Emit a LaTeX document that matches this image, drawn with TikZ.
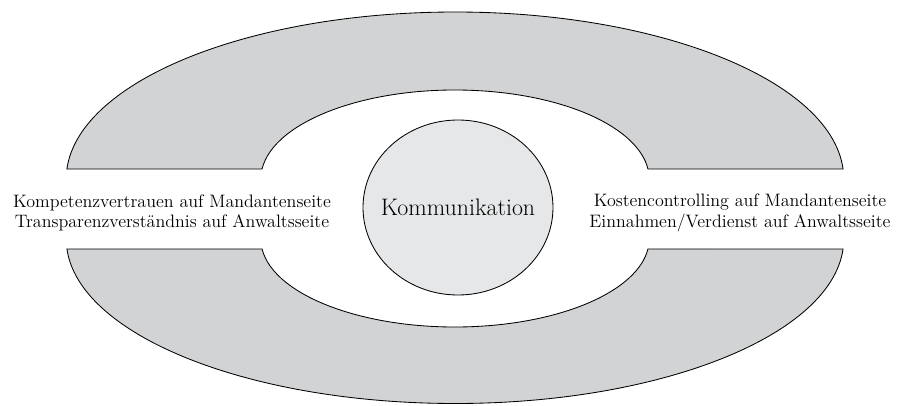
\documentclass[tikz,border=0pt]{standalone}
\usetikzlibrary{shapes.geometric}
\definecolor{ringgray}{HTML}{D1D3D4}
\definecolor{kerngray}{HTML}{E6E7E8}
\begin{document}
\begin{tikzpicture}
	\tikzset{ring part/.style={draw=black, line width=0.6pt, fill=ringgray},
		side text/.style={align=center, font=\fontsize{12.8}{14.5}\selectfont}}
	% \draw (-11, -5) grid (11, 5);
	\useasboundingbox (-11.375,-4.9) rectangle (11.05,5.225);
	\draw [ring part, shift={(0,0.75)}] (3.43:9.72 and 4.175)
		arc [start angle=3.43, end angle=176.57, x radius=9.72, y radius=4.175]
		-- (173.55:4.855 and 2.225)
		arc [start angle=173.55, end angle=6.45, x radius=4.855, y radius=2.225] -- cycle;
	\draw [ring part, shift={(0,-0.75)}] (-3.49:9.72 and 4.1125)
		arc [start angle=-3.49, end angle=-176.51, x radius=9.72, y radius=4.1125]
		-- (-173.48:4.855 and 2.2)
		arc [start angle=-173.48, end angle=-6.52, x radius=4.855, y radius=2.2] -- cycle;
	\node [ellipse, draw, line width=0.6pt, fill=kerngray, inner sep=0pt,
		minimum width=4.75cm, minimum height=4.375cm,
		label={[font=\fontsize{17}{20}\selectfont]center:Kommunikation}] (komm) at (0.075, 0.0375) {};
	\node [side text] (links) at (-7.075, -0.1)
		{Kompetenzvertrauen auf Mandantenseite\\Transparenzverständnis auf Anwaltsseite};
	\node [side text] (rechts) at (7.125, -0.1)
		{Kostencontrolling auf Mandantenseite\\Einnahmen/Verdienst auf Anwaltsseite};
\end{tikzpicture}
\end{document}
